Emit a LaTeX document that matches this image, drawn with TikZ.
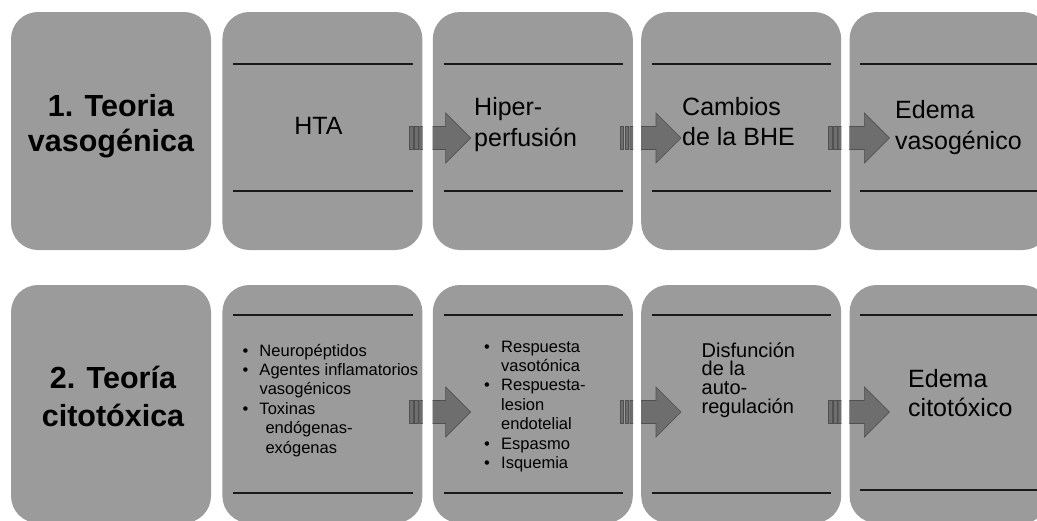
\documentclass[tikz,border=0pt]{standalone}
\usepackage{fontspec}
\setmainfont{Liberation Sans}
\usetikzlibrary{positioning, calc}
\definecolor{boxGrey}{RGB}{155, 155, 155}
\definecolor{arrowGrey}{RGB}{110, 110, 110}
\definecolor{arrowEdge}{RGB}{80, 80, 80}
\definecolor{ruleBlack}{RGB}{25, 25, 25}
\newcommand{\leftlines}[2]{\vtop{\baselineskip=#1\relax\lineskiplimit=-\maxdimen\halign{##\hfil\cr#2\crcr}}}
\newcommand{\centerlines}[2]{\vtop{\baselineskip=#1\relax\lineskiplimit=-\maxdimen\halign{\hfil##\hfil\cr#2\crcr}}}
\newcommand{\itm}{\makebox[17pt][l]{\textbullet}}

\begin{document}
\begin{tikzpicture} [x=1pt, y=-1pt,
        stage/.style={fill=boxGrey, rounded corners=27pt, minimum width=200pt, minimum height=238pt, inner sep=0pt},
        stage rule/.style={line width=1.8pt, draw=ruleBlack},
        label title/.style={anchor=base, inner sep=0pt, font=\bfseries\fontsize{30.5}{36}\selectfont},
        label big/.style={anchor=base west, inner sep=0pt, font=\fontsize{25}{31}\selectfont},
        label mid/.style={anchor=base west, inner sep=0pt, font=\fontsize{20}{19}\selectfont},
        label list/.style={anchor=base west, inner sep=0pt, font=\fontsize{16.5}{19.4}\selectfont},
        % arrows
        arrow stripe/.style={fill=arrowGrey, draw=arrowEdge, line width=.6pt},
        block arrow/.style={fill=arrowGrey, draw=arrowEdge, line width=.6pt},
    ]
    \useasboundingbox (0,0) rectangle (1037,520);
    \clip (0,0) rectangle (1037,520);

    % row 1
    \path node[stage] (v1) at (111,131) {};
    \path (v1.east) ++(right:11pt) node[stage, anchor=west] (v2) {};
    \path (v2.east) ++(right:10pt) node[stage, anchor=west] (v3) {};
    \path (v3.east) ++(right:8pt) node[stage, anchor=west] (v4) {};
    \path (v4.east) ++(right:8pt) node[stage, anchor=west] (v5) {};

    % row 2
    \path node[stage] (c1) at (111,404) {};
    \path (c1.east) ++(right:11pt) node[stage, anchor=west] (c2) {};
    \path (c2.east) ++(right:10pt) node[stage, anchor=west] (c3) {};
    \path (c3.east) ++(right:8pt) node[stage, anchor=west] (c4) {};
    \path (c4.east) ++(right:8pt) node[stage, anchor=west] (c5) {};

    \foreach \s in {v2,v3,v4,v5} {
        \draw[stage rule] ($ (\s.north west) + (11,52) $) -- ($ (\s.north east) + (-10,52) $);
        \draw[stage rule] ($ (\s.south west) + (11,-59) $) -- ($ (\s.south east) + (-10,-59) $);
    }
    \foreach \s/\d in {c2/30, c3/30, c4/30, c5/33} {
        \draw[stage rule] ($ (\s.north west) + (11,30) $) -- ($ (\s.north east) + (-10,30) $);
        \draw[stage rule] ($ (\s.south west) + (11,-\d) $) -- ($ (\s.south east) + (-10,-\d) $);
    }

    \foreach \src/\dst/\dy in {v2/v3/7, v3/v4/7, v4/v5/7, c2/c3/8, c3/c4/8, c4/c5/8} {
        \begin{scope}
            \clip (\src.south west) rectangle (\src.north east) (\dst.south west) rectangle (\dst.north east);
            \path (\src.east) ++(-13,\dy) coordinate (tail);
            \filldraw[arrow stripe] ($ (tail) + (0,-11.5) $) rectangle ++(3.5,23);
            \filldraw[arrow stripe] ($ (tail) + (5,-11.5) $) rectangle ++(3.5,23);
            \filldraw[block arrow] ($ (tail) + (10,-11.5) $) -- ++(26,0) -- ++(0,-13.5) -- ++(25,25) -- ++(-25,25) -- ++(0,-13.5) -- ++(-26,0) -- cycle;
        \end{scope}
    }

    \node[label title] (title vaso) at (111,116.7) {\centerlines{35pt}{1. Teoria\cr vasogénica}};
    \node[label big, anchor=base] (hta) at (318.5,134) {HTA};
    \node[label big] (hiper) at (474,115) {\leftlines{31pt}{Hiper-\cr perfusión}};
    \node[label big] (bhe) at (682,115) {\leftlines{30pt}{Cambios\cr de la BHE}};
    \node[label big] (edema vaso) at (895,118) {\leftlines{31pt}{Edema\cr vasogénico}};

    \node[label title] (title cito) at (113,388.3) {\centerlines{38.5pt}{2. Teoría\cr citotóxica}};
    \node[label list] (agents) at (242.3,356) {\leftlines{19.4pt}{\itm Neuropéptidos\cr \itm Agentes inflamatorios\cr \hspace{17pt}vasogénicos\cr \itm Toxinas\cr \hspace{23pt}endógenas-\cr \hspace{23pt}exógenas}};
    \node[label list] (responses) at (484,352) {\leftlines{19.4pt}{\itm Respuesta\cr \hspace{17pt}vasotónica\cr \itm Respuesta-\cr \hspace{17pt}lesion\cr \hspace{17pt}endotelial\cr \itm Espasmo\cr \itm Isquemia}};
    \node[label mid] (disfuncion) at (701.5,357) {\leftlines{18.7pt}{Disfunción\cr de la\cr auto-\cr regulación}};
    \node[label big] (edema cito) at (908,387) {\leftlines{29.7pt}{Edema\cr citotóxico}};

\end{tikzpicture}
\end{document}
